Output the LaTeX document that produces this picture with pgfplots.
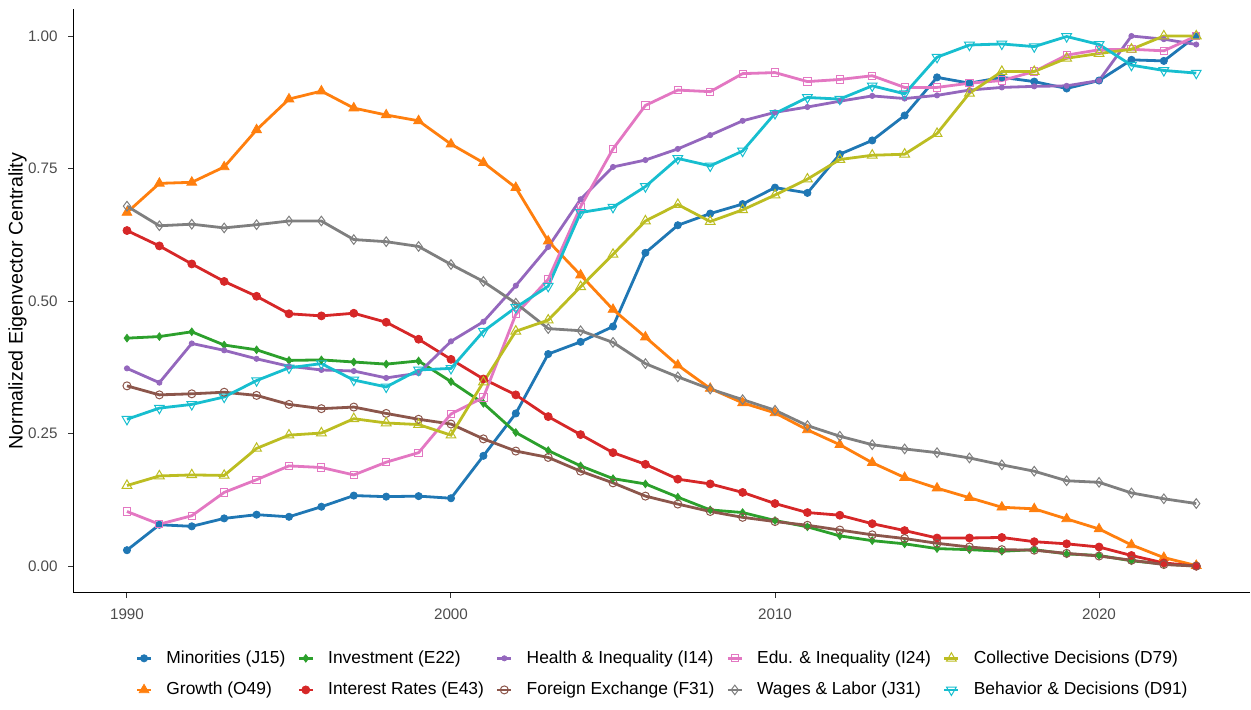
\documentclass[border=0pt]{standalone}
\usepackage{pgfplots}
\pgfplotsset{compat=1.18}
\usepackage{pgfplotstable}
\usepackage{fontspec}
\setmainfont{Liberation Sans}

\definecolor{cJ15}{HTML}{1F77B4}
\definecolor{cO49}{HTML}{FF7F0E}
\definecolor{cE22}{HTML}{2CA02C}
\definecolor{cE43}{HTML}{D62728}
\definecolor{cI14}{HTML}{9467BD}
\definecolor{cF31}{HTML}{8C564B}
\definecolor{cI24}{HTML}{E377C2}
\definecolor{cJ31}{HTML}{7F7F7F}
\definecolor{cD79}{HTML}{BCBD22}
\definecolor{cD91}{HTML}{17BECF}

% normalized eigenvector centrality per topic and year
\pgfplotstableread{
year J15   O49   E22   E43   I14   F31   I24   J31   D79   D91
1990 0.030 0.667 0.430 0.633 0.373 0.340 0.103 0.679 0.152 0.277
1991 0.078 0.722 0.433 0.604 0.346 0.323 0.079 0.642 0.170 0.298
1992 0.075 0.724 0.442 0.570 0.420 0.325 0.095 0.645 0.172 0.305
1993 0.090 0.753 0.417 0.537 0.407 0.328 0.139 0.638 0.171 0.319
1994 0.097 0.823 0.408 0.509 0.391 0.322 0.163 0.644 0.222 0.350
1995 0.093 0.881 0.388 0.476 0.377 0.305 0.189 0.651 0.247 0.374
1996 0.112 0.896 0.389 0.472 0.370 0.297 0.186 0.651 0.251 0.382
1997 0.133 0.864 0.385 0.477 0.368 0.300 0.172 0.616 0.278 0.351
1998 0.131 0.851 0.381 0.460 0.355 0.288 0.196 0.612 0.270 0.338
1999 0.132 0.840 0.387 0.428 0.364 0.277 0.214 0.603 0.267 0.370
2000 0.128 0.796 0.348 0.390 0.424 0.268 0.287 0.569 0.247 0.373
2001 0.208 0.761 0.307 0.353 0.461 0.240 0.318 0.537 0.347 0.443
2002 0.288 0.714 0.252 0.323 0.529 0.217 0.475 0.496 0.443 0.488
2003 0.400 0.613 0.218 0.282 0.602 0.205 0.541 0.448 0.464 0.528
2004 0.423 0.549 0.189 0.248 0.692 0.179 0.678 0.444 0.527 0.667
2005 0.452 0.484 0.165 0.214 0.753 0.157 0.787 0.422 0.588 0.677
2006 0.591 0.432 0.155 0.192 0.766 0.132 0.869 0.382 0.651 0.716
2007 0.643 0.379 0.130 0.164 0.787 0.117 0.898 0.357 0.682 0.769
2008 0.665 0.335 0.106 0.155 0.813 0.103 0.895 0.334 0.650 0.755
2009 0.683 0.308 0.101 0.139 0.840 0.092 0.929 0.314 0.672 0.783
2010 0.714 0.289 0.086 0.118 0.856 0.084 0.931 0.294 0.700 0.854
2011 0.704 0.257 0.074 0.101 0.866 0.077 0.914 0.265 0.730 0.884
2012 0.777 0.229 0.057 0.096 0.877 0.068 0.918 0.245 0.767 0.881
2013 0.803 0.195 0.048 0.080 0.887 0.059 0.925 0.229 0.775 0.906
2014 0.850 0.167 0.042 0.067 0.882 0.052 0.903 0.221 0.777 0.891
2015 0.922 0.147 0.033 0.053 0.888 0.043 0.903 0.214 0.816 0.960
2016 0.911 0.129 0.031 0.053 0.898 0.036 0.911 0.204 0.892 0.983
2017 0.922 0.111 0.028 0.054 0.903 0.031 0.916 0.191 0.933 0.985
2018 0.914 0.108 0.031 0.046 0.905 0.030 0.933 0.179 0.933 0.980
2019 0.901 0.089 0.023 0.042 0.906 0.024 0.964 0.161 0.958 0.999
2020 0.916 0.070 0.020 0.036 0.916 0.019 0.974 0.158 0.967 0.984
2021 0.955 0.040 0.010 0.020 1.000 0.011 0.975 0.138 0.975 0.945
2022 0.953 0.016 0.004 0.006 0.994 0.003 0.972 0.127 1.000 0.935
2023 1.000 0.001 0.000 0.000 0.984 0.000 1.000 0.118 1.000 0.930
}\data

\tikzset{
  base/.style={line width=1.4bp},
  sJ15/.style={base, color=cJ15, mark=*, mark size=1.8bp, mark options={solid, line width=0.4bp}},
  sO49/.style={base, color=cO49, mark=triangle*, mark size=2.8bp, mark options={solid, line width=0.4bp}},
  sE22/.style={base, color=cE22, mark=diamond*, mark size=1.9bp, mark options={solid, line width=0.4bp}},
  sE43/.style={base, color=cE43, mark=*, mark size=2.0bp, mark options={solid, line width=0.4bp}},
  sI14/.style={base, color=cI14, mark=*, mark size=1.3bp, mark options={solid, line width=0.4bp}},
  sF31/.style={base, color=cF31, mark=o, mark size=2.0bp, mark options={solid, line width=0.5bp}},
  sI24/.style={base, color=cI24, mark=square, mark size=1.8bp, mark options={solid, line width=0.5bp}},
  sJ31/.style={base, color=cJ31, mark=diamond, mark size=2.4bp, mark options={solid, line width=0.5bp}},
  sD79/.style={base, color=cD79, mark=triangle, mark size=2.8bp, mark options={solid, line width=0.5bp}},
  sD91/.style={base, color=cD91, mark=triangle, mark size=2.8bp, mark options={solid, line width=0.5bp, rotate=180}},
}

\begin{document}
\begin{tikzpicture}
\useasboundingbox (-36.75bp,-58.25bp) rectangle (588.65bp,296.25bp);
\begin{axis}[
    at={(0,0)}, anchor=south west,
    scale only axis, width=588bp, height=291.5bp,
    xmin=1988.35, xmax=2024.65,
    ymin=-0.05, ymax=1.05,
    axis x line*=bottom, axis y line*=left,
    axis line style={-, black, line width=0.8bp},
    xtick={1990,2000,2010,2020},
    xticklabels={1990,2000,2010,2020},
    ytick={0,0.25,0.5,0.75,1},
    yticklabels={0.00,0.25,0.50,0.75,1.00},
    tick align=outside, major tick length=2.75bp,
    tick style={black!80, line width=0.5bp},
    ticklabel style={font=\fontsize{7.6bp}{9bp}\selectfont, text=black!70, inner sep=0pt},
    xticklabel style={yshift=-5.2bp},
    yticklabel style={xshift=-5bp},
    ylabel={Normalized Eigenvector Centrality},
    every axis y label/.style={at={(axis description cs:-0.0476,0.5)}, rotate=90, anchor=center,
        font=\fontsize{9.8bp}{11.5bp}\selectfont},
    clip=false,
    legend columns=5,
    legend cell align=left,
    legend image code/.code={\draw[mark repeat=2, mark phase=2, #1] plot coordinates {(0bp,0bp) (3.5bp,0bp) (7bp,0bp)};},
    legend style={at={(0.5,0)}, anchor=center, yshift=-40.75bp, draw=none, fill=none,
        inner sep=0pt, font=\fontsize{8.7bp}{10.4bp}\selectfont, row sep=8bp,
        nodes={inner sep=0pt},
        /tikz/every odd column/.append style={column sep=7bp},
        /tikz/every even column/.append style={column sep=6bp}},
]

% lines first
\addplot[sJ15, no markers, forget plot] table[x=year, y=J15] {\data};
\addplot[sO49, no markers, forget plot] table[x=year, y=O49] {\data};
\addplot[sE22, no markers, forget plot] table[x=year, y=E22] {\data};
\addplot[sE43, no markers, forget plot] table[x=year, y=E43] {\data};
\addplot[sI14, no markers, forget plot] table[x=year, y=I14] {\data};
\addplot[sF31, no markers, forget plot] table[x=year, y=F31] {\data};
\addplot[sI24, no markers, forget plot] table[x=year, y=I24] {\data};
\addplot[sJ31, no markers, forget plot] table[x=year, y=J31] {\data};
\addplot[sD79, no markers, forget plot] table[x=year, y=D79] {\data};
\addplot[sD91, no markers, forget plot] table[x=year, y=D91] {\data};

% then points
\addplot[sJ15, only marks, forget plot] table[x=year, y=J15] {\data};
\addplot[sO49, only marks, forget plot] table[x=year, y=O49] {\data};
\addplot[sE22, only marks, forget plot] table[x=year, y=E22] {\data};
\addplot[sE43, only marks, forget plot] table[x=year, y=E43] {\data};
\addplot[sI14, only marks, forget plot] table[x=year, y=I14] {\data};
\addplot[sF31, only marks, forget plot] table[x=year, y=F31] {\data};
\addplot[sI24, only marks, forget plot] table[x=year, y=I24] {\data};
\addplot[sJ31, only marks, forget plot] table[x=year, y=J31] {\data};
\addplot[sD79, only marks, forget plot] table[x=year, y=D79] {\data};
\addplot[sD91, only marks, forget plot] table[x=year, y=D91] {\data};

% legend, row by row
\addlegendimage{sJ15}\addlegendentry{Minorities (J15)}
\addlegendimage{sE22}\addlegendentry{Investment (E22)}
\addlegendimage{sI14}\addlegendentry{Health \& Inequality (I14)}
\addlegendimage{sI24}\addlegendentry{Edu. \& Inequality (I24)}
\addlegendimage{sD79}\addlegendentry{Collective Decisions (D79)}
\addlegendimage{sO49}\addlegendentry{Growth (O49)}
\addlegendimage{sE43}\addlegendentry{Interest Rates (E43)}
\addlegendimage{sF31}\addlegendentry{Foreign Exchange (F31)}
\addlegendimage{sJ31}\addlegendentry{Wages \& Labor (J31)}
\addlegendimage{sD91}\addlegendentry{Behavior \& Decisions (D91)}

\end{axis}
\end{tikzpicture}
\end{document}
